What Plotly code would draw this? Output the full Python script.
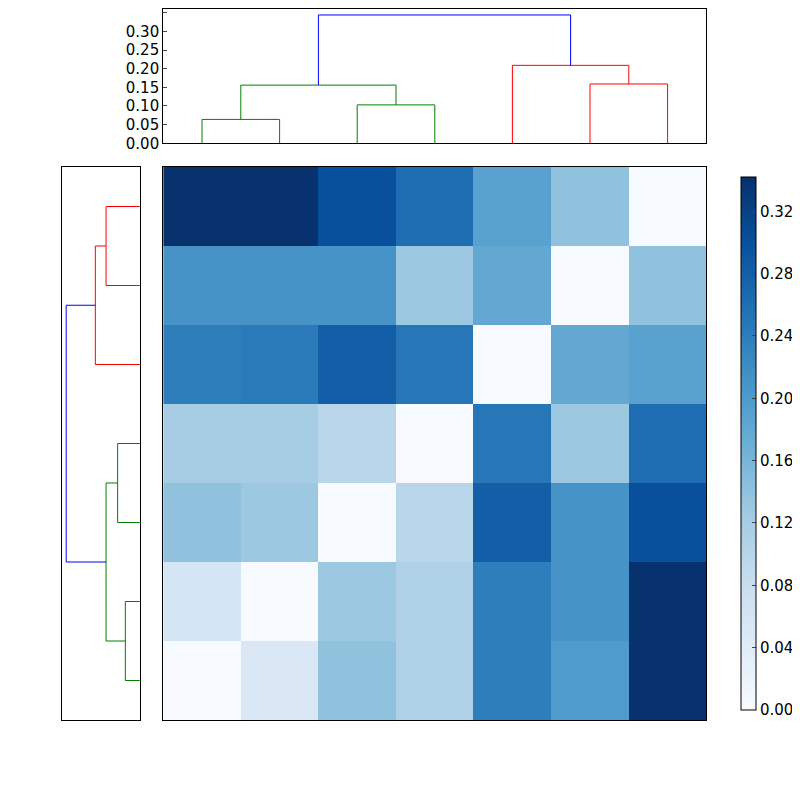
import plotly.graph_objects as go

# heatmap values, rows top to bottom
z = [
    [0.34, 0.34, 0.30, 0.26, 0.19, 0.14, 0.00],
    [0.21, 0.21, 0.21, 0.13, 0.18, 0.00, 0.14],
    [0.24, 0.245, 0.28, 0.25, 0.00, 0.18, 0.19],
    [0.12, 0.12, 0.10, 0.00, 0.25, 0.13, 0.26],
    [0.14, 0.13, 0.00, 0.10, 0.28, 0.21, 0.30],
    [0.06, 0.00, 0.13, 0.11, 0.24, 0.21, 0.34],
    [0.00, 0.05, 0.14, 0.11, 0.24, 0.20, 0.34],
]
# dendrogram links (scipy style icoord / dcoord)
icoord = [[5, 5, 15, 15], [25, 25, 35, 35], [10, 10, 30, 30],
          [55, 55, 65, 65], [45, 45, 60, 60], [20, 20, 52.5, 52.5]]
dcoord = [[0, 0.064, 0.064, 0], [0, 0.103, 0.103, 0], [0.064, 0.156, 0.156, 0.103],
          [0, 0.159, 0.159, 0], [0, 0.209, 0.209, 0.159], [0.156, 0.344, 0.344, 0.209]]
link_colors = ["green", "green", "green", "red", "red", "blue"]
# left dendrogram (leaf positions measured from bottom)
icoord_l = [[5, 5, 15, 15], [25, 25, 35, 35], [10, 10, 30, 30],
            [55, 55, 65, 65], [45, 45, 60, 60], [20, 20, 52.5, 52.5]]
dcoord_l = [[0, 0.068, 0.068, 0], [0, 0.104, 0.104, 0], [0.068, 0.158, 0.158, 0.104],
            [0, 0.158, 0.158, 0], [0, 0.208, 0.208, 0.158], [0.158, 0.344, 0.344, 0.208]]
cb_ticks = [0.00, 0.04, 0.08, 0.12, 0.16, 0.20, 0.24, 0.28, 0.32]

fig = go.Figure()
for ic, dc, c in zip(icoord, dcoord, link_colors):
    fig.add_trace(go.Scatter(x=ic, y=dc, mode="lines", line=dict(color=c, width=1),
                             xaxis="x2", yaxis="y2", showlegend=False, hoverinfo="skip"))
for ic, dc, c in zip(icoord_l, dcoord_l, link_colors):
    fig.add_trace(go.Scatter(x=dc, y=ic, mode="lines", line=dict(color=c, width=1),
                             xaxis="x3", yaxis="y3", showlegend=False, hoverinfo="skip"))
fig.add_trace(go.Heatmap(z=z, colorscale="Blues", zmin=0, zmax=0.342,
                         colorbar=dict(x=745/800, xanchor="left", y=0.1, yanchor="bottom",
                                       len=0.7, thickness=15, outlinecolor="black", outlinewidth=1,
                                       tickvals=cb_ticks, ticktext=[f"{v:.2f}" for v in cb_ticks],
                                       ticks="inside", ticklen=4, tickfont=dict(size=15))))

frame = dict(showline=True, linecolor="black", mirror=True, showgrid=False, zeroline=False)
fig.update_layout(
    width=800, height=800, margin=dict(l=0, r=0, t=0, b=0),
    plot_bgcolor="white", paper_bgcolor="white",
    font=dict(family="DejaVu Sans", size=15, color="black"),
    xaxis=dict(domain=[0.2, 0.9], range=[-0.5, 6.5], showticklabels=False, ticks="", **frame),
    yaxis=dict(domain=[0.1, 0.8], range=[6.5, -0.5], showticklabels=False, ticks="", **frame),
    xaxis2=dict(domain=[0.2, 0.9], anchor="y2", range=[0, 70], showticklabels=False, ticks="", **frame),
    yaxis2=dict(domain=[0.83, 1.0], anchor="x2", range=[0, 0.36], tickvals=[0, 0.05, 0.1, 0.15, 0.2, 0.25, 0.3, 0.35],
                tickformat=".2f", ticks="inside", ticklen=4, **frame),
    xaxis3=dict(domain=[0.07, 0.17], anchor="y3", range=[0.362, 0], showticklabels=False, ticks="", **frame),
    yaxis3=dict(domain=[0.1, 0.8], anchor="x3", range=[0, 70], showticklabels=False, ticks="", **frame),
)
fig.write_html("out.html")
